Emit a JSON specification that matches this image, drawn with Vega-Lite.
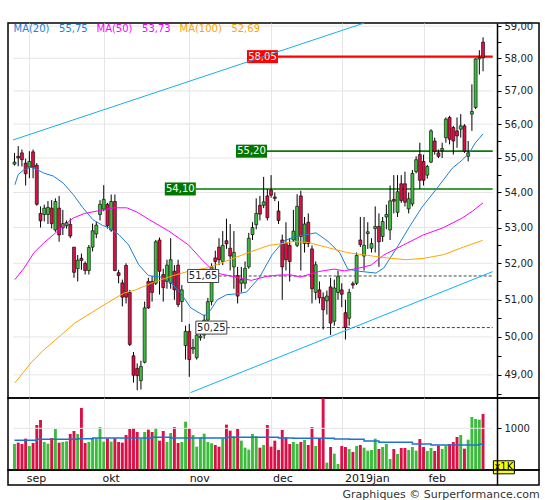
{
  "$schema": "https://vega.github.io/schema/vega-lite/v6.json",
  "description": "Daily candles Aug 2018 - Feb 2019 with moving averages and volume",
  "padding": {"left": 7, "top": 20, "right": 5, "bottom": 0},
  "background": "#ffffff",
  "config": {
    "font": "DejaVu Sans",
    "view": {"stroke": "#000000", "strokeWidth": 1.5},
    "axis": {"gridColor": "#e6e6e6", "labelFont": "DejaVu Sans", "minExtent": 0}
  },
  "title": {
    "text": "Graphiques © Surperformance.com",
    "orient": "bottom",
    "anchor": "end",
    "fontSize": 11,
    "fontWeight": "normal",
    "color": "#333333",
    "offset": 3
  },
  "datasets": {
    "d": [
      {"i":0,"o":54.82,"h":55.15,"l":54.78,"c":54.88,"v":624,"vm":712},
      {"i":1,"o":55.05,"h":55.35,"l":54.76,"c":55.0,"v":656,"vm":712},
      {"i":2,"o":55.15,"h":55.25,"l":54.75,"c":54.95,"v":624,"vm":712},
      {"i":3,"o":54.85,"h":54.98,"l":54.2,"c":54.54,"v":752,"vm":712},
      {"i":4,"o":54.73,"h":55.2,"l":54.41,"c":54.9,"v":576,"vm":712},
      {"i":5,"o":55.18,"h":55.25,"l":54.41,"c":54.73,"v":648,"vm":712},
      {"i":6,"o":54.79,"h":54.85,"l":53.62,"c":53.66,"v":1080,"vm":736},
      {"i":7,"o":53.4,"h":53.6,"l":53.0,"c":53.19,"v":1200,"vm":736},
      {"i":8,"o":53.37,"h":53.65,"l":53.17,"c":53.55,"v":672,"vm":736},
      {"i":9,"o":53.37,"h":53.75,"l":53.1,"c":53.57,"v":632,"vm":736},
      {"i":10,"o":53.55,"h":53.78,"l":52.97,"c":53.11,"v":768,"vm":736},
      {"i":11,"o":52.93,"h":53.83,"l":52.88,"c":53.74,"v":984,"vm":736},
      {"i":12,"o":53.55,"h":53.9,"l":52.6,"c":52.79,"v":656,"vm":736},
      {"i":13,"o":52.99,"h":53.5,"l":52.79,"c":53.11,"v":672,"vm":736},
      {"i":14,"o":53.05,"h":53.2,"l":52.97,"c":53.14,"v":688,"vm":736},
      {"i":15,"o":53.09,"h":53.26,"l":52.7,"c":52.76,"v":864,"vm":736},
      {"i":16,"o":52.45,"h":52.45,"l":51.6,"c":51.75,"v":936,"vm":736},
      {"i":17,"o":51.85,"h":52.23,"l":51.5,"c":52.09,"v":864,"vm":752},
      {"i":18,"o":52.14,"h":52.27,"l":51.82,"c":52.08,"v":1488,"vm":752},
      {"i":19,"o":52.0,"h":52.05,"l":51.69,"c":51.8,"v":648,"vm":752},
      {"i":20,"o":51.8,"h":52.51,"l":51.69,"c":52.44,"v":672,"vm":752},
      {"i":21,"o":52.45,"h":53.11,"l":52.33,"c":52.91,"v":760,"vm":768},
      {"i":22,"o":52.82,"h":53.17,"l":52.7,"c":53.07,"v":760,"vm":768},
      {"i":23,"o":53.37,"h":53.78,"l":53.2,"c":53.66,"v":1032,"vm":768},
      {"i":24,"o":53.52,"h":54.21,"l":53.46,"c":53.8,"v":680,"vm":768},
      {"i":25,"o":53.66,"h":53.7,"l":52.97,"c":53.05,"v":760,"vm":768},
      {"i":26,"o":52.93,"h":53.94,"l":52.88,"c":53.74,"v":680,"vm":768},
      {"i":27,"o":53.74,"h":53.94,"l":51.78,"c":51.8,"v":760,"vm":768},
      {"i":28,"o":51.74,"h":51.82,"l":51.45,"c":51.66,"v":672,"vm":768},
      {"i":29,"o":51.46,"h":51.55,"l":50.82,"c":51.07,"v":656,"vm":768},
      {"i":30,"o":51.94,"h":52.0,"l":50.9,"c":51.07,"v":840,"vm":768},
      {"i":31,"o":51.2,"h":51.27,"l":49.76,"c":49.8,"v":984,"vm":768},
      {"i":32,"o":49.5,"h":49.6,"l":48.8,"c":48.99,"v":1008,"vm":768},
      {"i":33,"o":49.17,"h":49.3,"l":48.6,"c":48.98,"v":912,"vm":768},
      {"i":34,"o":48.85,"h":49.37,"l":48.62,"c":49.22,"v":752,"vm":768},
      {"i":35,"o":49.33,"h":50.95,"l":49.3,"c":50.78,"v":912,"vm":768},
      {"i":36,"o":51.5,"h":51.6,"l":50.75,"c":50.78,"v":968,"vm":768},
      {"i":37,"o":51.5,"h":51.65,"l":50.95,"c":51.2,"v":912,"vm":784},
      {"i":38,"o":51.45,"h":52.65,"l":51.4,"c":52.6,"v":1008,"vm":784},
      {"i":39,"o":52.65,"h":52.72,"l":51.14,"c":51.78,"v":704,"vm":784},
      {"i":40,"o":51.69,"h":51.85,"l":50.95,"c":51.33,"v":936,"vm":784},
      {"i":41,"o":51.5,"h":52.1,"l":51.3,"c":51.95,"v":672,"vm":784},
      {"i":42,"o":51.45,"h":52.7,"l":51.3,"c":52.1,"v":888,"vm":768},
      {"i":43,"o":51.78,"h":51.95,"l":51.0,"c":51.27,"v":1032,"vm":768},
      {"i":44,"o":51.95,"h":52.1,"l":50.8,"c":50.87,"v":648,"vm":768},
      {"i":45,"o":50.95,"h":51.4,"l":50.4,"c":51.27,"v":672,"vm":768},
      {"i":46,"o":49.77,"h":50.3,"l":49.4,"c":50.15,"v":1160,"vm":768},
      {"i":47,"o":50.15,"h":50.35,"l":48.95,"c":49.4,"v":1000,"vm":768},
      {"i":48,"o":49.68,"h":49.95,"l":49.55,"c":49.72,"v":840,"vm":768},
      {"i":49,"o":49.45,"h":50.15,"l":49.4,"c":50.05,"v":560,"vm":768},
      {"i":50,"o":49.98,"h":50.25,"l":49.9,"c":50.02,"v":784,"vm":768},
      {"i":51,"o":50.05,"h":50.6,"l":49.95,"c":50.45,"v":872,"vm":768},
      {"i":52,"o":50.45,"h":51.05,"l":50.35,"c":50.95,"v":672,"vm":768},
      {"i":53,"o":50.95,"h":52.0,"l":50.85,"c":51.9,"v":640,"vm":768},
      {"i":54,"o":52.15,"h":52.35,"l":51.7,"c":52.05,"v":600,"vm":768},
      {"i":55,"o":52.45,"h":52.7,"l":51.95,"c":52.1,"v":560,"vm":768},
      {"i":56,"o":52.05,"h":52.9,"l":51.95,"c":52.5,"v":760,"vm":768},
      {"i":57,"o":52.63,"h":53.25,"l":52.4,"c":52.54,"v":1088,"vm":784},
      {"i":58,"o":52.42,"h":53.1,"l":51.8,"c":52.2,"v":944,"vm":784},
      {"i":59,"o":51.9,"h":52.9,"l":51.3,"c":52.3,"v":808,"vm":784},
      {"i":60,"o":51.66,"h":51.9,"l":50.9,"c":51.1,"v":984,"vm":784},
      {"i":61,"o":51.45,"h":51.9,"l":51.2,"c":51.55,"v":704,"vm":784},
      {"i":62,"o":51.45,"h":52.05,"l":51.3,"c":51.86,"v":536,"vm":784},
      {"i":63,"o":51.9,"h":52.85,"l":51.85,"c":52.7,"v":488,"vm":784},
      {"i":64,"o":52.8,"h":53.15,"l":52.65,"c":53.0,"v":864,"vm":784},
      {"i":65,"o":53.08,"h":53.83,"l":52.95,"c":53.4,"v":808,"vm":784},
      {"i":66,"o":53.63,"h":53.9,"l":53.2,"c":53.38,"v":536,"vm":784},
      {"i":67,"o":53.63,"h":54.45,"l":53.55,"c":53.73,"v":600,"vm":784},
      {"i":68,"o":53.9,"h":54.1,"l":53.2,"c":53.28,"v":1080,"vm":784},
      {"i":69,"o":54.07,"h":54.5,"l":53.85,"c":53.92,"v":560,"vm":784},
      {"i":70,"o":53.87,"h":54.0,"l":53.75,"c":53.83,"v":704,"vm":784},
      {"i":71,"o":53.47,"h":53.75,"l":53.1,"c":53.2,"v":480,"vm":768},
      {"i":72,"o":52.65,"h":52.8,"l":51.0,"c":51.9,"v":960,"vm":768},
      {"i":73,"o":52.55,"h":53.15,"l":51.8,"c":52.1,"v":784,"vm":768},
      {"i":74,"o":52.5,"h":52.7,"l":51.5,"c":52.05,"v":624,"vm":768},
      {"i":75,"o":52.65,"h":53.5,"l":52.6,"c":52.9,"v":672,"vm":760},
      {"i":76,"o":52.5,"h":53.95,"l":52.45,"c":53.6,"v":624,"vm":760},
      {"i":77,"o":53.9,"h":54.05,"l":51.8,"c":52.75,"v":672,"vm":760},
      {"i":78,"o":52.55,"h":53.3,"l":52.3,"c":53.1,"v":720,"vm":760},
      {"i":79,"o":53.15,"h":53.4,"l":52.45,"c":52.55,"v":600,"vm":760},
      {"i":80,"o":52.4,"h":52.5,"l":50.9,"c":51.3,"v":1032,"vm":760},
      {"i":81,"o":51.2,"h":52.05,"l":51.0,"c":51.96,"v":576,"vm":760},
      {"i":82,"o":51.27,"h":51.5,"l":50.9,"c":51.05,"v":760,"vm":760},
      {"i":83,"o":51.06,"h":51.2,"l":50.2,"c":50.73,"v":1720,"vm":760},
      {"i":84,"o":50.97,"h":51.25,"l":50.6,"c":51.1,"v":176,"vm":760},
      {"i":85,"o":51.35,"h":51.6,"l":50.05,"c":50.37,"v":552,"vm":760},
      {"i":86,"o":50.42,"h":51.55,"l":50.3,"c":51.32,"v":392,"vm":744},
      {"i":87,"o":51.2,"h":51.8,"l":51.0,"c":51.63,"v":144,"vm":744},
      {"i":88,"o":51.27,"h":51.45,"l":50.8,"c":51.15,"v":576,"vm":744},
      {"i":89,"o":50.65,"h":51.0,"l":49.93,"c":50.25,"v":552,"vm":744},
      {"i":90,"o":50.5,"h":51.3,"l":50.3,"c":51.2,"v":504,"vm":736},
      {"i":91,"o":51.44,"h":51.5,"l":51.3,"c":51.4,"v":432,"vm":736},
      {"i":92,"o":51.45,"h":52.3,"l":51.4,"c":52.22,"v":576,"vm":736},
      {"i":93,"o":52.65,"h":53.3,"l":52.45,"c":52.52,"v":600,"vm":736},
      {"i":94,"o":52.2,"h":53.3,"l":51.8,"c":52.5,"v":536,"vm":696},
      {"i":95,"o":52.83,"h":53.15,"l":52.4,"c":52.88,"v":464,"vm":696},
      {"i":96,"o":52.42,"h":52.7,"l":52.3,"c":52.55,"v":480,"vm":696},
      {"i":97,"o":52.97,"h":53.6,"l":52.3,"c":53.03,"v":752,"vm":696},
      {"i":98,"o":53.03,"h":53.4,"l":51.9,"c":52.6,"v":504,"vm":664},
      {"i":99,"o":52.75,"h":53.3,"l":52.6,"c":53.17,"v":552,"vm":664},
      {"i":100,"o":53.3,"h":53.65,"l":52.95,"c":53.37,"v":624,"vm":664},
      {"i":101,"o":52.93,"h":54.2,"l":52.65,"c":53.76,"v":264,"vm":664},
      {"i":102,"o":53.8,"h":54.5,"l":53.4,"c":53.75,"v":504,"vm":664},
      {"i":103,"o":53.43,"h":54.5,"l":53.3,"c":54.02,"v":384,"vm":664},
      {"i":104,"o":54.25,"h":54.5,"l":53.7,"c":53.77,"v":528,"vm":664},
      {"i":105,"o":54.25,"h":54.6,"l":53.6,"c":53.72,"v":528,"vm":664},
      {"i":106,"o":53.53,"h":54.0,"l":53.4,"c":53.82,"v":480,"vm":664},
      {"i":107,"o":53.67,"h":54.65,"l":53.6,"c":54.55,"v":552,"vm":624},
      {"i":108,"o":54.6,"h":55.05,"l":54.55,"c":54.95,"v":464,"vm":624},
      {"i":109,"o":55.1,"h":55.45,"l":54.1,"c":54.35,"v":744,"vm":624},
      {"i":110,"o":54.9,"h":55.1,"l":54.2,"c":54.35,"v":552,"vm":624},
      {"i":111,"o":54.5,"h":54.8,"l":54.4,"c":54.75,"v":456,"vm":624},
      {"i":112,"o":54.88,"h":55.85,"l":54.85,"c":55.8,"v":528,"vm":600},
      {"i":113,"o":55.5,"h":55.6,"l":55.1,"c":55.2,"v":456,"vm":600},
      {"i":114,"o":55.15,"h":55.25,"l":55.0,"c":55.05,"v":584,"vm":600},
      {"i":115,"o":55.22,"h":55.45,"l":55.0,"c":55.28,"v":504,"vm":600},
      {"i":116,"o":55.6,"h":56.2,"l":55.45,"c":56.15,"v":584,"vm":600},
      {"i":117,"o":56.2,"h":56.25,"l":55.4,"c":55.55,"v":624,"vm":600},
      {"i":118,"o":55.9,"h":55.95,"l":55.1,"c":55.5,"v":672,"vm":600},
      {"i":119,"o":55.8,"h":56.2,"l":55.3,"c":55.65,"v":792,"vm":600},
      {"i":120,"o":55.85,"h":56.3,"l":55.6,"c":55.95,"v":840,"vm":600},
      {"i":121,"o":55.95,"h":56.0,"l":55.15,"c":55.2,"v":512,"vm":600},
      {"i":122,"o":55.05,"h":55.5,"l":54.9,"c":55.15,"v":728,"vm":600},
      {"i":123,"o":56.3,"h":57.2,"l":55.8,"c":56.38,"v":1272,"vm":600},
      {"i":124,"o":56.5,"h":58.0,"l":56.45,"c":57.98,"v":1224,"vm":600},
      {"i":125,"o":57.98,"h":58.25,"l":57.5,"c":58.02,"v":1208,"vm":616},
      {"i":126,"o":58.5,"h":58.65,"l":57.6,"c":58.02,"v":1344,"vm":616}
    ],
    "ma": [
      {"s":"MA(20)","i":0.1,"v":54.22},{"s":"MA(20)","i":1.0,"v":54.52},{"s":"MA(20)","i":2.6,"v":54.66},
      {"s":"MA(20)","i":4.4,"v":54.73},{"s":"MA(20)","i":6.1,"v":54.66},{"s":"MA(20)","i":7.9,"v":54.56},
      {"s":"MA(20)","i":10.5,"v":54.47},{"s":"MA(20)","i":13.1,"v":54.27},{"s":"MA(20)","i":15.8,"v":53.94},
      {"s":"MA(20)","i":18.4,"v":53.56},{"s":"MA(20)","i":21.1,"v":53.22},{"s":"MA(20)","i":23.7,"v":53.06},
      {"s":"MA(20)","i":25.5,"v":52.99},{"s":"MA(20)","i":28.1,"v":52.8},{"s":"MA(20)","i":30.7,"v":52.51},
      {"s":"MA(20)","i":33.4,"v":51.96},{"s":"MA(20)","i":36.0,"v":51.66},{"s":"MA(20)","i":39.5,"v":51.62},
      {"s":"MA(20)","i":42.1,"v":51.46},{"s":"MA(20)","i":44.7,"v":51.18},{"s":"MA(20)","i":47.4,"v":50.78},
      {"s":"MA(20)","i":51.1,"v":50.56},{"s":"MA(20)","i":52.6,"v":50.7},{"s":"MA(20)","i":54.5,"v":51.0},
      {"s":"MA(20)","i":57.1,"v":51.14},{"s":"MA(20)","i":59.8,"v":51.16},{"s":"MA(20)","i":62.4,"v":51.21},
      {"s":"MA(20)","i":65.8,"v":51.6},{"s":"MA(20)","i":69.3,"v":52.24},{"s":"MA(20)","i":72.4,"v":52.62},
      {"s":"MA(20)","i":75.6,"v":52.75},{"s":"MA(20)","i":81.1,"v":52.85},{"s":"MA(20)","i":84.3,"v":52.61},
      {"s":"MA(20)","i":87.5,"v":52.29},{"s":"MA(20)","i":89.6,"v":51.84},{"s":"MA(20)","i":92.7,"v":51.78},
      {"s":"MA(20)","i":97.2,"v":51.73},{"s":"MA(20)","i":99.3,"v":51.87},{"s":"MA(20)","i":102.8,"v":52.43},
      {"s":"MA(20)","i":106.2,"v":53.02},{"s":"MA(20)","i":109.6,"v":53.58},{"s":"MA(20)","i":113.9,"v":54.16},
      {"s":"MA(20)","i":117.8,"v":54.71},{"s":"MA(20)","i":120.5,"v":54.95},{"s":"MA(20)","i":122.3,"v":55.15},
      {"s":"MA(20)","i":123.9,"v":55.44},{"s":"MA(20)","i":126.0,"v":55.71},
      {"s":"MA(50)","i":0.1,"v":51.55},{"s":"MA(50)","i":2.6,"v":51.87},{"s":"MA(50)","i":5.2,"v":52.29},
      {"s":"MA(50)","i":7.9,"v":52.57},{"s":"MA(50)","i":10.5,"v":52.8},{"s":"MA(50)","i":13.1,"v":53.04},
      {"s":"MA(50)","i":15.8,"v":53.27},{"s":"MA(50)","i":18.9,"v":53.4},{"s":"MA(50)","i":22.8,"v":53.48},
      {"s":"MA(50)","i":26.8,"v":53.56},{"s":"MA(50)","i":30.2,"v":53.56},{"s":"MA(50)","i":32.9,"v":53.44},
      {"s":"MA(50)","i":36.3,"v":53.22},{"s":"MA(50)","i":41.5,"v":52.9},{"s":"MA(50)","i":46.8,"v":52.51},
      {"s":"MA(50)","i":50.5,"v":52.09},{"s":"MA(50)","i":53.2,"v":51.82},{"s":"MA(50)","i":55.3,"v":51.71},
      {"s":"MA(50)","i":59.5,"v":51.62},{"s":"MA(50)","i":63.7,"v":51.53},{"s":"MA(50)","i":67.9,"v":51.64},
      {"s":"MA(50)","i":71.6,"v":51.68},{"s":"MA(50)","i":74.3,"v":51.68},{"s":"MA(50)","i":76.9,"v":51.62},
      {"s":"MA(50)","i":81.7,"v":51.77},{"s":"MA(50)","i":85.9,"v":51.84},{"s":"MA(50)","i":88.8,"v":51.79},
      {"s":"MA(50)","i":92.7,"v":51.87},{"s":"MA(50)","i":95.9,"v":51.95},{"s":"MA(50)","i":99.3,"v":52.23},
      {"s":"MA(50)","i":104.6,"v":52.51},{"s":"MA(50)","i":109.9,"v":52.79},{"s":"MA(50)","i":115.2,"v":52.99},
      {"s":"MA(50)","i":120.4,"v":53.27},{"s":"MA(50)","i":123.1,"v":53.46},{"s":"MA(50)","i":126.0,"v":53.7},
      {"s":"MA(100)","i":0.1,"v":48.79},{"s":"MA(100)","i":4.4,"v":49.31},{"s":"MA(100)","i":7.8,"v":49.65},
      {"s":"MA(100)","i":12.3,"v":50.03},{"s":"MA(100)","i":16.2,"v":50.37},{"s":"MA(100)","i":21.0,"v":50.67},
      {"s":"MA(100)","i":24.9,"v":50.91},{"s":"MA(100)","i":29.4,"v":51.18},{"s":"MA(100)","i":32.6,"v":51.27},
      {"s":"MA(100)","i":37.3,"v":51.47},{"s":"MA(100)","i":42.6,"v":51.66},{"s":"MA(100)","i":46.8,"v":51.78},
      {"s":"MA(100)","i":52.1,"v":51.88},{"s":"MA(100)","i":57.4,"v":52.08},{"s":"MA(100)","i":63.2,"v":52.31},
      {"s":"MA(100)","i":68.5,"v":52.5},{"s":"MA(100)","i":72.2,"v":52.55},{"s":"MA(100)","i":75.1,"v":52.61},
      {"s":"MA(100)","i":79.0,"v":52.58},{"s":"MA(100)","i":84.2,"v":52.44},{"s":"MA(100)","i":89.3,"v":52.3},
      {"s":"MA(100)","i":94.9,"v":52.22},{"s":"MA(100)","i":100.1,"v":52.15},{"s":"MA(100)","i":105.4,"v":52.1},
      {"s":"MA(100)","i":110.2,"v":52.14},{"s":"MA(100)","i":115.4,"v":52.24},{"s":"MA(100)","i":120.7,"v":52.45},
      {"s":"MA(100)","i":125.9,"v":52.64}
    ],
    "lv": [
      {"p":58.05,"t":"58,05","f":70.85,"k":"r"},
      {"p":55.2,"t":"55,20","f":67.9,"k":"g1"},
      {"p":54.1,"t":"54,10","f":48.76,"k":"g2"},
      {"p":51.65,"t":"51,65","f":54.9,"k":"d"},
      {"p":50.25,"t":"50,25","f":57.1,"k":"d"}
    ],
    "tr": [
      {"s":"up","i":-0.4,"v":55.53},{"s":"up","i":94.06,"v":59.1},
      {"s":"lo","i":47.36,"v":48.54},{"s":"lo","i":128.6,"v":51.77}
    ],
    "gr": [{"p":49},{"p":50},{"p":51},{"p":52},{"p":53},{"p":54},{"p":55},{"p":56},{"p":57},{"p":58},{"p":59}],
    "vg": [{"g":1000}],
    "unit": [{"t":"x1K","i":131.6,"v":65}],
    "mo": [{"i":4,"z":0.5},{"i":24,"z":0.5},{"i":47,"z":0.5},{"i":69,"z":0.5},{"i":88,"z":0.5},{"i":110,"z":0.5}]
  },
  "spacing": 0,
  "bounds": "flush",
  "resolve": {"scale": {"color": "independent"}},
  "vconcat": [
    {
      "width": 531,
      "height": 375,
      "layer": [
        {
          "data": {"name": "gr"},
          "mark": {"type": "rule", "color": "#e6e6e6", "strokeWidth": 1},
          "encoding": {
            "y": {
              "field": "p", "type": "quantitative", "title": null,
              "scale": {"type": "log", "domain": [48.4, 59.1], "nice": false, "zero": false},
              "axis": {
                "orient": "right", "offset": -42,
                "values": [48.5, 49, 49.5, 50, 50.5, 51, 51.5, 52, 52.5, 53, 53.5, 54, 54.5, 55, 55.5, 56, 56.5, 57, 57.5, 58, 58.5, 59],
                "labelExpr": "datum.value % 1 == 0 ? replace(format(datum.value, '.2f'), '.', ',') : ''",
                "grid": false, "tickSize": 4, "tickColor": "#000000",
                "domainColor": "#000000", "domainWidth": 1.5,
                "labelFontSize": 10, "labelColor": "#222222", "labelPadding": 3,
                "labelOverlap": false, "labelFlush": false, "title": null
              }
            },
            "x": {
              "datum": -0.4, "type": "quantitative",
              "scale": {"domain": [-0.4, 139.7], "nice": false, "zero": false},
              "axis": {
                "values": [4, 24, 47, 69, 88, 110], "grid": true, "labels": false,
                "ticks": false, "domain": false, "title": null
              }
            },
            "x2": {"datum": 128.6}
          }
        },
        {
          "data": {"name": "lv"},
          "mark": {"type": "rule"},
          "encoding": {
            "x": {"field": "f", "type": "quantitative", "title": null},
            "x2": {"datum": 128.6},
            "y": {"field": "p", "type": "quantitative", "title": null},
            "stroke": {"field": "k", "type": "nominal", "legend": null,
              "scale": {"domain": ["r", "g1", "g2", "d"], "range": ["#ff0000", "#0a780a", "#008000", "#444444"]}},
            "strokeWidth": {"field": "k", "type": "nominal", "legend": null,
              "scale": {"domain": ["r", "g1", "g2", "d"], "range": [2.2, 1, 3, 1]}},
            "strokeDash": {"field": "k", "type": "nominal", "legend": null,
              "scale": {"domain": ["r", "g1", "g2", "d"], "range": [[1, 0], [1, 0], [1, 0], [3, 2]]}}
          }
        },
        {
          "data": {"name": "d"},
          "mark": {"type": "rule", "color": "#000000", "strokeWidth": 1},
          "encoding": {
            "x": {"field": "i", "type": "quantitative", "title": null},
            "y": {"field": "l", "type": "quantitative", "title": null},
            "y2": {"field": "h"}
          }
        },
        {
          "data": {"name": "d"},
          "mark": {"type": "bar", "orient": "vertical", "width": 3, "stroke": "#000000", "strokeWidth": 0.6},
          "encoding": {
            "x": {"field": "i", "type": "quantitative", "title": null},
            "y": {"field": "o", "type": "quantitative", "title": null},
            "y2": {"field": "c"},
            "color": {"condition": {"test": "datum.c >= datum.o", "value": "#3cbc3c"}, "value": "#dc0f46"}
          }
        },
        {
          "data": {"name": "ma"},
          "mark": {"type": "line", "strokeWidth": 1},
          "encoding": {
            "x": {"field": "i", "type": "quantitative", "title": null},
            "y": {"field": "v", "type": "quantitative", "title": null},
            "color": {
              "field": "s", "type": "nominal",
              "scale": {"domain": ["MA(20)", "MA(50)", "MA(100)"], "range": ["#1e7fd8", "#ff00ff", "#ffa500"]},
              "legend": {
                "orient": "none", "legendX": 6, "legendY": 1, "direction": "horizontal",
                "title": null, "symbolSize": 0, "symbolStrokeWidth": 0, "symbolOpacity": 0,
                "labelOffset": -10.5, "columnPadding": 8, "padding": 0,
                "labelFontSize": 10, "labelFont": "DejaVu Sans",
                "labelExpr": "datum.label == 'MA(20)' ? 'MA(20)\u00a0\u00a0\u00a055,75' : datum.label == 'MA(50)' ? 'MA(50)\u00a0\u00a0\u00a053,73' : 'MA(100)\u00a0\u00a0\u00a052,69'",
                "encode": {"labels": {"update": {"fill": {"signal": "datum.value == 'MA(20)' ? '#1e7fd8' : datum.value == 'MA(50)' ? '#ff00ff' : '#ffa500'"}}}}
              }
            }
          }
        },
        {
          "data": {"name": "lv"},
          "mark": {"type": "point", "shape": "M-1,-0.42L1,-0.42L1,0.42L-1,0.42Z", "size": 961, "filled": true, "opacity": 1, "xOffset": -15.5, "strokeWidth": 1},
          "encoding": {
            "x": {"field": "f", "type": "quantitative", "title": null},
            "y": {"field": "p", "type": "quantitative", "title": null},
            "fill": {"field": "k", "type": "nominal", "legend": null,
              "scale": {"domain": ["r", "g1", "g2", "d"], "range": ["#ff0000", "#007800", "#007800", "#ffffff"]}},
            "stroke": {"condition": {"test": "datum.k == 'd'", "value": "#444444"}, "value": "transparent"}
          }
        },
        {
          "data": {"name": "lv"},
          "mark": {"type": "text", "dx": -15.5, "fontSize": 10, "align": "center", "baseline": "middle"},
          "encoding": {
            "x": {"field": "f", "type": "quantitative", "title": null},
            "y": {"field": "p", "type": "quantitative", "title": null},
            "text": {"field": "t"},
            "color": {"condition": {"test": "datum.k == 'd'", "value": "#222222"}, "value": "#ffffff"}
          }
        },
        {
          "data": {"name": "tr"},
          "mark": {"type": "line", "color": "#12b0f5", "strokeWidth": 1},
          "encoding": {
            "x": {"field": "i", "type": "quantitative", "title": null},
            "y": {"field": "v", "type": "quantitative", "title": null},
            "detail": {"field": "s"}
          }
        }
      ]
    },
    {
      "width": 531,
      "height": 72,
      "layer": [
        {
          "data": {"name": "d"},
          "mark": {"type": "bar", "orient": "vertical", "width": 2.9},
          "encoding": {
            "x": {
              "field": "i", "type": "quantitative", "title": null,
              "scale": {"domain": [-0.4, 139.7], "nice": false, "zero": false},
              "axis": {
                "values": [4, 24, 47, 69, 88, 110], "grid": true, "labels": false,
                "ticks": false, "domain": false, "title": null
              }
            },
            "y": {
              "field": "v", "type": "quantitative", "title": null,
              "scale": {"domain": [0, 1727], "nice": false, "zero": true},
              "axis": {
                "orient": "right", "offset": -42,
                "values": [1000],
                "format": "d",
                "grid": false, "tickSize": 4, "tickColor": "#000000",
                "domainColor": "#000000", "domainWidth": 1.5,
                "labelFontSize": 10, "labelColor": "#222222", "labelPadding": 3,
                "labelOverlap": false, "labelFlush": false, "title": null, "zindex": 2
              }
            },
            "color": {"condition": {"test": "datum.c >= datum.o", "value": "#3cbc3c"}, "value": "#dc0f46"}
          }
        },
        {
          "data": {"name": "vg"},
          "mark": {"type": "rule", "color": "#e6e6e6"},
          "encoding": {
            "y": {"field": "g", "type": "quantitative", "title": null},
            "x": {"datum": -0.4, "type": "quantitative"},
            "x2": {"datum": 128.6}
          }
        },
        {
          "data": {"name": "d"},
          "mark": {"type": "line", "interpolate": "step-after", "color": "#1a73d0", "strokeWidth": 1.5},
          "encoding": {
            "x": {"field": "i", "type": "quantitative", "title": null},
            "y": {"field": "vm", "type": "quantitative", "title": null}
          }
        },
        {
          "data": {"name": "unit"},
          "mark": {"type": "point", "shape": "M-1,-0.62L1,-0.62L1,0.62L-1,0.62Z", "size": 441, "filled": true, "fill": "#ffff00", "stroke": "#000000", "strokeWidth": 1, "opacity": 1},
          "encoding": {
            "x": {"field": "i", "type": "quantitative", "title": null},
            "y": {"field": "v", "type": "quantitative", "title": null}
          }
        },
        {
          "data": {"name": "unit"},
          "mark": {"type": "text", "fontSize": 10, "color": "#000000", "align": "center", "baseline": "middle"},
          "encoding": {
            "x": {"field": "i", "type": "quantitative", "title": null},
            "y": {"field": "v", "type": "quantitative", "title": null},
            "text": {"field": "t"}
          }
        }
      ]
    },
    {
      "width": 531,
      "height": 15,
      "data": {"name": "mo"},
      "mark": {"type": "point", "opacity": 0},
      "encoding": {
        "x": {
          "field": "i", "type": "quantitative", "title": null,
          "scale": {"domain": [-0.4, 139.7], "nice": false, "zero": false},
          "axis": {
            "orient": "bottom", "offset": -15,
            "values": [4, 24, 47, 69, 88, 110],
            "labelExpr": "datum.value == 4 ? 'sep' : datum.value == 24 ? 'okt' : datum.value == 47 ? 'nov' : datum.value == 69 ? 'dec' : datum.value == 88 ? '2019jan' : 'feb'",
            "labelAlign": "left", "labelBaseline": "top", "labelPadding": 2, "labelOffset": 1.5,
            "ticks": false, "domain": false, "grid": false,
            "labelFontSize": 11, "labelColor": "#111111", "labelFlush": false, "labelOverlap": false
          }
        },
        "y": {
          "field": "z", "type": "quantitative", "title": null,
          "scale": {"domain": [0, 1]},
          "axis": {"orient": "right", "offset": -42, "labels": false, "ticks": false, "grid": false, "domainColor": "#000000", "domainWidth": 1.5}
        }
      }
    }
  ]
}
